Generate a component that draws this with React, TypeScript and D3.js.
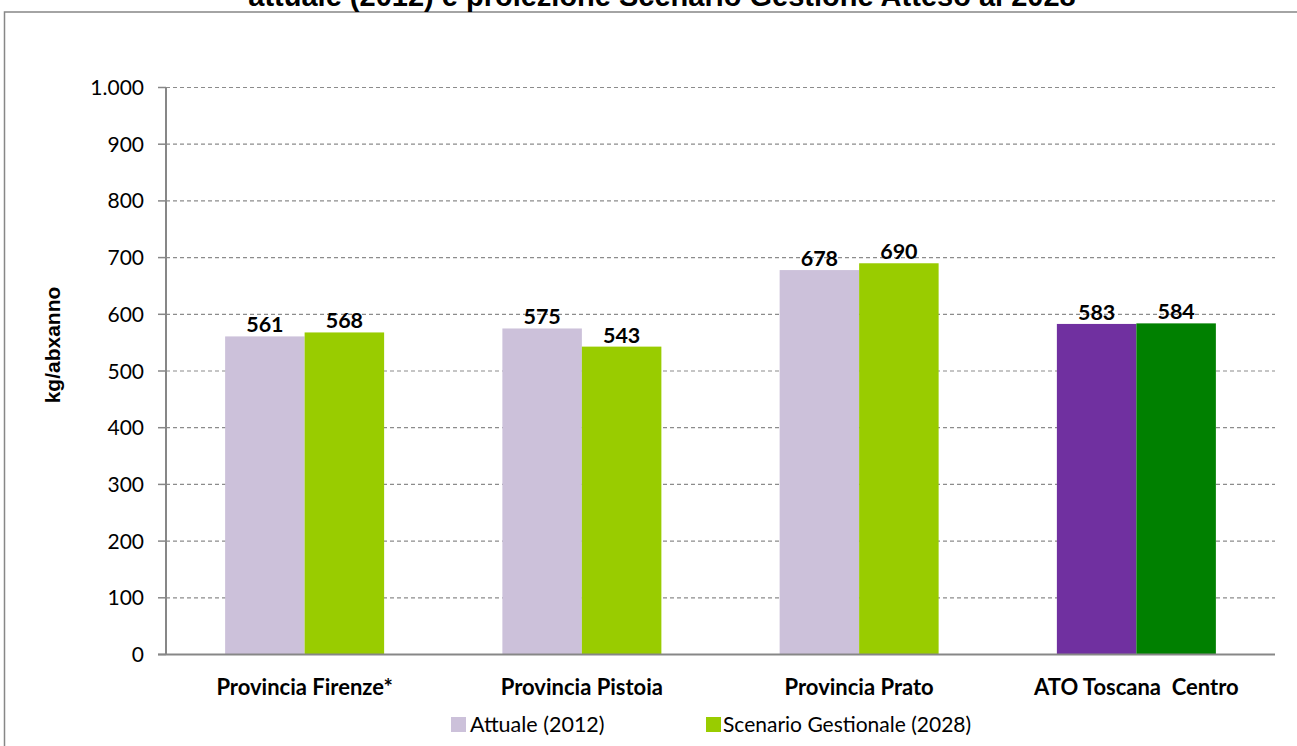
import React from "react";
import * as d3 from "d3";

const categories = ["Provincia Firenze*", "Provincia Pistoia", "Provincia Prato", "ATO Toscana  Centro"];
const attuale = [561, 575, 678, 583];
const scenario = [568, 543, 690, 584];
const yTicks = [0, 100, 200, 300, 400, 500, 600, 700, 800, 900, 1000];
const seriesNames = ["Attuale (2012)", "Scenario Gestionale (2028)"];
const colorsA = ["#CCC1DA", "#CCC1DA", "#CCC1DA", "#7030A0"];
const colorsB = ["#99CC00", "#99CC00", "#99CC00", "#008000"];
const titleText = "attuale (2012) e proiezione Scenario Gestione Atteso al 2028";

const W = 1297;
const H = 746;
const left = 166;
const right = 1275;
const top = 87.5;
const bottom = 654.5;

export default function App() {
  const x = d3.scaleBand<string>().domain(categories).range([left, right]).padding(0);
  const y = d3.scaleLinear().domain([0, 1000]).range([bottom, top]);
  const barW = 79.5;
  const fmt = (v: number) => (v >= 1000 ? d3.format(",")(v).replace(",", ".") : String(v));
  const calibri = "Lato, 'Open Sans', sans-serif";

  return (
    <svg width={W} height={H} style={{ position: "absolute", left: 0, top: 0 }} fontFamily={calibri}>
      <rect x={0} y={0} width={W} height={H} fill="#fff" />
      <rect x={4.5} y={12} width={W + 20} height={H + 20} fill="none" stroke="#878787" strokeWidth={1.5} />
      <text x={662} y={6} textAnchor="middle" fontFamily="'Liberation Sans', Arial, sans-serif" fontWeight="bold" fontSize={29} fill="#000">
        {titleText}
      </text>
      {/* gridlines */}
      {yTicks.filter((t) => t > 0).map((t) => (
        <line key={"g" + t} x1={left} x2={right} y1={y(t)} y2={y(t)} stroke="#8c8c8c" strokeWidth={1.2} strokeDasharray="4,3" />
      ))}
      {/* bars */}
      {categories.map((c, i) => {
        const cx = (x(c) as number) + x.bandwidth() / 2;
        return (
          <g key={c}>
            <rect x={cx - barW} y={y(attuale[i])} width={barW} height={bottom - y(attuale[i])} fill={colorsA[i]} />
            <rect x={cx} y={y(scenario[i])} width={barW} height={bottom - y(scenario[i])} fill={colorsB[i]} />
            <text x={cx - barW / 2} y={y(attuale[i]) - 4} textAnchor="middle" fontWeight="bold" fontSize={21.5} fill="#000">
              {attuale[i]}
            </text>
            <text x={cx + barW / 2} y={y(scenario[i]) - 4} textAnchor="middle" fontWeight="bold" fontSize={21.5} fill="#000">
              {scenario[i]}
            </text>
            <text x={cx} y={695} textAnchor="middle" fontWeight="bold" fontSize={22} fill="#000" style={{ whiteSpace: "pre" }}>
              {c}
            </text>
          </g>
        );
      })}
      {/* axes */}
      <line x1={left} x2={left} y1={top} y2={bottom} stroke="#878787" strokeWidth={2} />
      <line x1={158} x2={right} y1={bottom} y2={bottom} stroke="#878787" strokeWidth={2} />
      {yTicks.map((t) => (
        <g key={"t" + t}>
          <line x1={158} x2={left} y1={y(t)} y2={y(t)} stroke="#878787" strokeWidth={1.5} />
          <text x={144} y={y(t) + 7.5} textAnchor="end" fontSize={21} fill="#000">
            {fmt(t)}
          </text>
        </g>
      ))}
      <text
        transform={`translate(60,${(287 + 403) / 2}) rotate(-90)`}
        textAnchor="middle"
        fontFamily="'Liberation Sans', Arial, sans-serif"
        fontWeight="bold"
        fontSize={21}
        fill="#000"
      >
        kg/abxanno
      </text>
      {/* legend */}
      <rect x={451} y={717} width={15} height={15} fill={colorsA[0]} />
      <text x={470} y={732} fontSize={21.5} fill="#000">{seriesNames[0]}</text>
      <rect x={706} y={717} width={15} height={15} fill={colorsB[0]} />
      <text x={723} y={732} fontSize={21} fill="#000">{seriesNames[1]}</text>
    </svg>
  );
}
